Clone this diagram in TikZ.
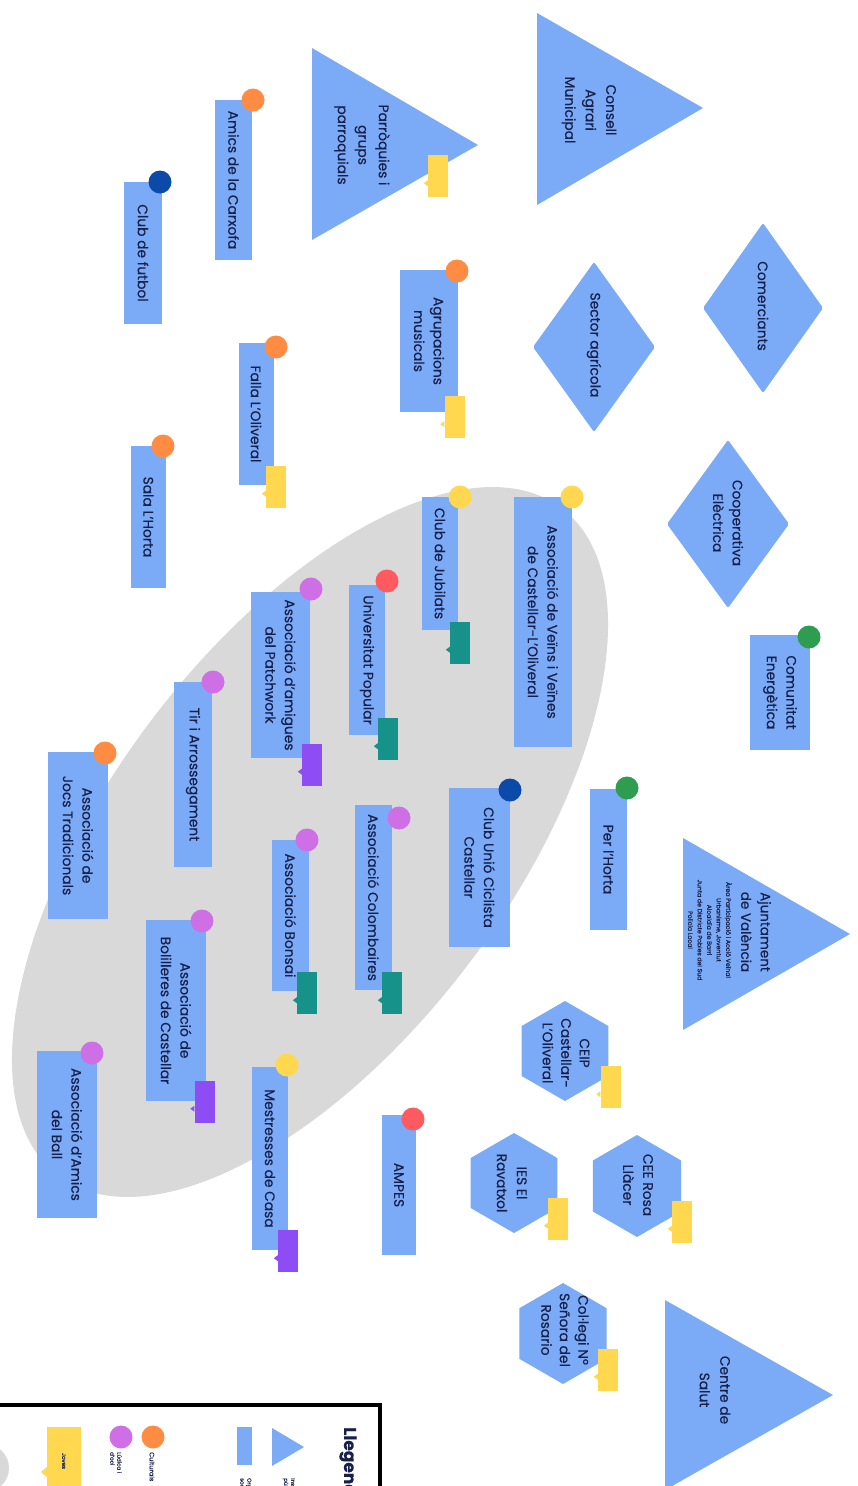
\documentclass[tikz,border=0pt]{standalone}
\usepackage{fontspec}
\setmainfont{Poppins}[FakeBold=0.35]
\usetikzlibrary{shapes.geometric}
\definecolor{instblue}{HTML}{7BAAF7}
\definecolor{textc}{HTML}{16204A}
\definecolor{ellgray}{HTML}{D9D9D9}
\definecolor{orangeC}{HTML}{FF8C42}
\definecolor{yellowC}{HTML}{FFD84F}
\definecolor{purpleC}{HTML}{CF6FE6}
\definecolor{redC}{HTML}{FF5A5F}
\definecolor{greenC}{HTML}{2E9D4F}
\definecolor{dblueC}{HTML}{0B4AA8}
\definecolor{tealC}{HTML}{16928A}
\definecolor{violetC}{HTML}{8E4CF5}
\newcommand\orgtag[4]{%
  \node[tagbox,fill=#4] (#1) at (#2,#3) {};
  \fill[#4] ([yshift=11pt]#1.south west) -- ++(-4pt,3pt) -- ++(4pt,3pt) -- cycle;}
\newcommand\hexshape[3]{%
  \fill[instblue, shift={(#1,#2)}] (0,-#3) -- (0.866*#3,-0.5*#3) -- (0.866*#3,0.5*#3) -- (0,#3) -- (-0.866*#3,0.5*#3) -- (-0.866*#3,-0.5*#3) -- cycle;}
\begin{document}
\begin{tikzpicture}[x=1pt,y=-1pt,
  org/.style={rotate=-90, fill=instblue, text=textc, align=center, inner sep=0pt, font=\fontsize{13.8}{19.5}\selectfont},
  orgdot/.style={circle, minimum size=23pt, inner sep=0pt},
  tagbox/.style={rectangle, minimum width=20pt, minimum height=42pt, inner sep=0pt},
  lbl/.style={rotate=-90, text=textc, align=center, inner sep=0pt, font=\fontsize{13.8}{20.5}\selectfont},
  leg/.style={rotate=-90, text=textc, align=left, inner sep=0pt, anchor=west, font=\fontsize{5.5}{7}\selectfont}]
\useasboundingbox (0,0) rectangle (857,1486);
\clip (0,0) rectangle (857,1486);
\fill[white] (0,0) rectangle (857,1486);

% grey zone
\node[ellipse, fill=ellgray, minimum width=836pt, minimum height=400pt, inner sep=0pt, rotate=53] (zone) at (310,842) {};

% institutions (triangles)
\fill[instblue] (537,13) -- (703,108) -- (537,205) -- cycle;
\node[lbl] (consell) at (589,110) {Consell\\Agrari\\Municipal};
\fill[instblue] (312,48) -- (478,145) -- (312,240) -- cycle;
\node[lbl] (parroq) at (362,145) {Parròquies i\\grups\\parroquials};
\fill[instblue] (683,838) -- (850,934) -- (683,1030) -- cycle;
\node[lbl, font=\fontsize{13.5}{19.5}\selectfont] (ajunt) at (756,932) {Ajuntament\\de València};
\node[lbl, font=\fontsize{6.2}{9.5}\selectfont] (ajuntsub) at (710,930) {Àrea Participació i Acció Veïnal\\Urbanisme, Joventut\\Alcaldia de Barri\\Junta de Districte Pobles del Sud\\Policia Local};
\fill[instblue] (665,1300) -- (833,1395) -- (665,1490) -- cycle;
\node[lbl] (salut) at (715,1390) {Centre de\\Salut};

% diamonds
\fill[instblue, rounded corners=2pt] (763,223) -- (823,308) -- (763,393) -- (703,308) -- cycle;
\node[lbl] (comerc) at (763,306) {Comerciants};
\fill[instblue, rounded corners=2pt] (594,262) -- (655,347) -- (594,432) -- (533,347) -- cycle;
\node[lbl] (sector) at (594,345) {Sector agrícola};
\fill[instblue, rounded corners=2pt] (728,440) -- (789,524) -- (728,608) -- (667,524) -- cycle;
\node[lbl, font=\fontsize{13.8}{19.5}\selectfont] (coop) at (728,523) {Cooperativa\\Elèctrica};

% hexagons
\hexshape{565}{1051}{50}
\node[lbl, font=\fontsize{13.8}{18.5}\selectfont] (ceip) at (566,1053) {CEIP\\Castellar-\\L'Oliveral};
\hexshape{637}{1186}{51}
\node[lbl, font=\fontsize{13.8}{20}\selectfont] (cee) at (638,1185) {CEE Rosa\\Llàcer};
\hexshape{514}{1183}{50}
\node[lbl, font=\fontsize{13.8}{20}\selectfont] (ies) at (512,1183) {IES El\\Ravatxol};
\hexshape{563}{1333.5}{50.5}
\node[lbl, font=\fontsize{13.8}{18.5}\selectfont] (colegi) at (565,1330) {Col·legi Nº\\Señora del\\Rosario};

% organisations (rectangles)
\node[org, minimum width=160pt, minimum height=37pt] (carxofa) at (233.5,180) {Amics de la Carxofa};
\node[org, minimum width=142pt, minimum height=38pt] (futbol) at (143,253) {Club de futbol};
\node[org, minimum width=142pt, minimum height=58pt] (agrup) at (429,341) {Agrupacions\\musicals};
\node[org, minimum width=142pt, minimum height=35pt] (falla) at (256,414) {Falla L'Oliveral};
\node[org, minimum width=142pt, minimum height=35pt] (sala) at (148.5,517) {Sala L'Horta};
\node[org, minimum width=115pt, minimum height=60pt] (comunitat) at (780,692.5) {Comunitat\\Energètica};
\node[org, minimum width=141pt, minimum height=37pt] (perhorta) at (608.5,859.5) {Per l'Horta};
\node[org, minimum width=250pt, minimum height=58pt] (veins) at (543,622) {Associació de Veïns i Veïnes\\de Castellar-L'Oliveral};
\node[org, minimum width=133pt, minimum height=36pt] (jubilats) at (440,563.5) {Club de Jubilats};
\node[org, minimum width=150pt, minimum height=36pt] (univ) at (367,660) {Universitat Popular};
\node[org, minimum width=166pt, minimum height=59pt] (patch) at (280.5,675) {Associació d'amigues\\del Patchwork};
\node[org, minimum width=159pt, minimum height=61pt] (ciclista) at (479.5,867.5) {Club Unió Ciclista\\Castellar};
\node[org, minimum width=185pt, minimum height=37pt] (colomb) at (373.5,897.5) {Associació Colombaires};
\node[org, minimum width=151pt, minimum height=37pt] (bonsai) at (290.5,915.5) {Associació Bonsai};
\node[org, minimum width=185pt, minimum height=38pt] (tir) at (193,774.5) {Tir i Arrossegament};
\node[org, minimum width=167pt, minimum height=60pt] (jocs) at (78,835.5) {Associació de\\Jocs Tradicionals};
\node[org, minimum width=181pt, minimum height=60pt] (bolill) at (176,1010.5) {Associació de\\Bolilleres de Castellar};
\node[org, minimum width=167pt, minimum height=60pt] (ball) at (67,1134.5) {Associació d'Amics\\del Ball};
\node[org, minimum width=183pt, minimum height=36pt] (mestr) at (270,1158.5) {Mestresses de Casa};
\node[org, minimum width=140pt, minimum height=34pt] (ampes) at (399,1185) {AMPES};

% category dots
\node[orgdot, fill=orangeC] (carxofa-c) at (253,100) {};
\node[orgdot, fill=dblueC] (futbol-c) at (160,182) {};
\node[orgdot, fill=orangeC] (agrup-c) at (457,271) {};
\node[orgdot, fill=orangeC] (falla-c) at (276,347) {};
\node[orgdot, fill=orangeC] (sala-c) at (163,446) {};
\node[orgdot, fill=greenC] (comunitat-c) at (809,637) {};
\node[orgdot, fill=greenC] (perhorta-c) at (627,788) {};
\node[orgdot, fill=yellowC] (veins-c) at (572,497) {};
\node[orgdot, fill=yellowC] (jubilats-c) at (460,497) {};
\node[orgdot, fill=redC] (univ-c) at (387,581) {};
\node[orgdot, fill=purpleC] (patch-c) at (311,589) {};
\node[orgdot, fill=dblueC] (ciclista-c) at (510,790) {};
\node[orgdot, fill=purpleC] (colomb-c) at (399,818) {};
\node[orgdot, fill=purpleC] (bonsai-c) at (307,840) {};
\node[orgdot, fill=purpleC] (tir-c) at (213,682) {};
\node[orgdot, fill=orangeC] (jocs-c) at (105,753) {};
\node[orgdot, fill=purpleC] (bolill-c) at (202,921) {};
\node[orgdot, fill=purpleC] (ball-c) at (92,1053) {};
\node[orgdot, fill=yellowC] (mestr-c) at (287,1065) {};
\node[orgdot, fill=redC] (ampes-c) at (413,1119) {};

% tags
\orgtag{parroq-t}{438}{176}{yellowC}
\orgtag{agrup-t}{454.5}{417}{yellowC}
\orgtag{falla-t}{276}{486.5}{yellowC}
\orgtag{jubilats-t}{460}{642.5}{tealC}
\orgtag{univ-t}{388}{739}{tealC}
\orgtag{patch-t}{312}{764.5}{violetC}
\orgtag{colomb-t}{392}{993}{tealC}
\orgtag{bonsai-t}{307}{993}{tealC}
\orgtag{bolill-t}{204.5}{1101.5}{violetC}
\orgtag{mestr-t}{288}{1251}{violetC}
\orgtag{ceip-t}{610.5}{1087}{yellowC}
\orgtag{cee-t}{682}{1221.5}{yellowC}
\orgtag{ies-t}{558}{1218.5}{yellowC}
\orgtag{colegi-t}{608}{1369.5}{yellowC}

% legend
\draw[line width=4pt] (-5,1405) -- (380,1405) -- (380,1495);
\node[leg, font=\bfseries\fontsize{17}{17}\selectfont] (legtitle) at (348,1427) {Llegenda};
\fill[instblue] (272,1428) -- (304,1447) -- (272,1466) -- cycle;
\node[leg] (leginst) at (289,1478) {Institucions\\públiques};
\fill[instblue] (237,1427) rectangle (252,1465);
\node[leg] (legorg) at (246,1478) {Organitzacions\\socials};
\node[orgdot, fill=orangeC] (legcult-c) at (153,1437) {};
\node[leg, font=\fontsize{6.5}{7.5}\selectfont] (legcult) at (152,1452) {Culturals};
\node[orgdot, fill=purpleC] (legludic-c) at (121,1437) {};
\node[leg] (legludic) at (116,1452) {Lúdica i\\d'oci};
\fill[yellowC] (47,1427) rectangle (81,1500);
\fill[yellowC] (47,1467) -- (41,1472) -- (47,1477) -- cycle;
\node[lbl, font=\fontsize{5.5}{6}\selectfont] (legjoves) at (64,1461) {Joves};
\fill[ellgray] (-15,1468) circle (24pt);
\end{tikzpicture}
\end{document}
